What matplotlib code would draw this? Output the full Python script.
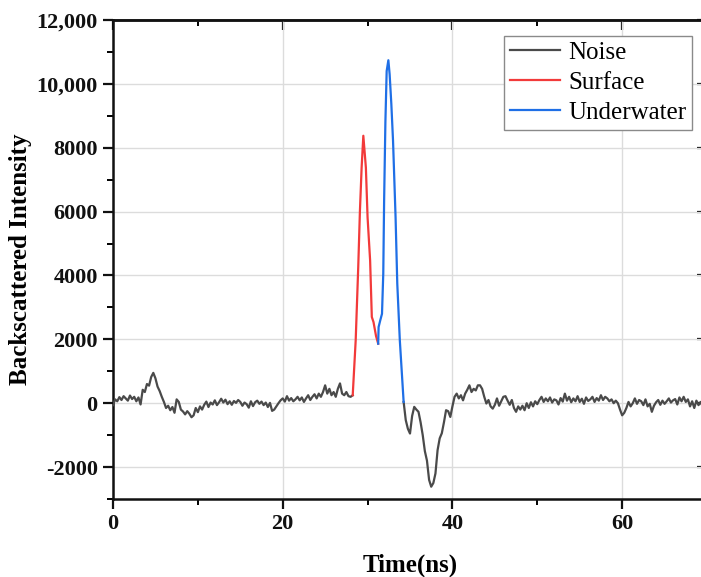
import numpy as np
import matplotlib
matplotlib.use("Agg")
import matplotlib.pyplot as plt
from matplotlib.ticker import FuncFormatter, MultipleLocator

plt.rcParams['font.family'] = ['Liberation Serif', 'DejaVu Serif']
plt.rcParams['axes.unicode_minus'] = False

# ---- data ----
noise1_t0 = 0.0
noise_step = 0.25
noise1_vals = [
    -60, 120, 60, 190,
    100, 220, 150, 80,
    240, 130, 200, 60,
    180, -40, 420, 350,
    600, 550, 820, 950,
    780, 520, 380, 200,
    40, -150, -80, -220,
    -120, -300, 120, 40,
    -200, -260, -350, -250,
    -330, -440, -380, -150,
    -280, -100, -200, -50,
    50, -120, 20, -40,
    90, -60, 30, 140,
    20, 110, -30, 60,
    -50, 70, 10, 100,
    40, -80, 20, -30,
    -140, 60, -90, 30,
    80, -20, 50, -60,
    20, -120, 10, -240,
    -200, -100, 0, 90,
    150, 50, 220, 80,
    160, 60, 120, 200,
    90, 180, 40, 150,
    250, 100, 200, 280,
    150, 300, 200, 350,
    560, 300, 450, 250,
    350, 200, 450, 620,
    300, 250, 350, 220,
    200, 250,
]

surface_t = [28.25, 28.6, 28.9, 29.1, 29.3, 29.5, 29.8, 30.0, 30.3, 30.5, 30.7, 31.0, 31.25]
surface_v = [250, 1970, 4260, 6030, 7380, 8375, 7380, 5820, 4470, 2700, 2540, 2100, 1865]

under_t = [31.25, 31.3, 31.5, 31.7, 31.85, 31.95, 32.1, 32.25, 32.45, 32.6, 32.8, 33.0, 33.3, 33.5, 33.8, 34.25]
under_v = [1865, 2385, 2600, 2800, 4060, 6340, 8800, 10400, 10740, 10300, 9370, 8220, 5820, 3750, 1970, 40]

noise2_t0 = 34.25
noise2_vals = [
    40, -530, -800, -950,
    -400, -115, -200, -270,
    -600, -1000, -1500, -1800,
    -2400, -2615, -2500, -2200,
    -1470, -1100, -940, -600,
    -220, -250, -430, -100,
    200, 300, 150, 250,
    90, 300, 420, 560,
    350, 450, 400, 560,
    560, 450, 200, -10,
    100, -100, -170, -50,
    150, -80, 60, 200,
    220, 80, -50, 100,
    -150, -270, -100, -200,
    -80, -220, 0, -150,
    30, -100, 60, -30,
    100, 200, 40, 150,
    60, 180, 20, 120,
    90, -40, 160, 50,
    300, 80, 200, 30,
    150, 60, 220, 40,
    140, -20, 180, 70,
    120, 200, 40, 160,
    80, 250, 100, 200,
    150, 60, 120, 0,
    80, 0, -200, -380,
    -300, -150, 40, -100,
    0, 150, -20, 100,
    60, -60, 120, -100,
    -20, -270, -80, 30,
    100, -50, 80, -20,
    60, 150, 20, 90,
    130, -40, 180, 60,
    200, 40, 120, -100,
    60, -150, 80, -60,
    40, -115, 20, -80,
]

x_ticks = [0, 20, 40, 60]
y_ticks = [-2000, 0, 2000, 4000, 6000, 8000, 10000, 12000]

noise1_t = noise1_t0 + noise_step * np.arange(len(noise1_vals))
noise2_t = noise2_t0 + noise_step * np.arange(len(noise2_vals))
noise_t = np.concatenate([noise1_t, [np.nan], noise2_t])
noise_v = np.concatenate([noise1_vals, [np.nan], noise2_vals])

W, H = 701, 577
fig = plt.figure(figsize=(W / 100, H / 100), dpi=100)
ax = fig.add_axes([113 / W, (H - 499) / H, 594 / W, 479 / H])

ax.plot(noise_t, noise_v, color='#4a4a4a', lw=1.6, label='Noise', zorder=3)
ax.plot(surface_t, surface_v, color='#f23a3a', lw=1.6, label='Surface', zorder=4)
ax.plot(under_t, under_v, color='#1f6fe6', lw=1.6, label='Underwater', zorder=4)

ax.set_xlim(0, 70)
ax.set_ylim(-3000, 12000)
ax.set_xticks(x_ticks)
ax.set_yticks(y_ticks)
ax.xaxis.set_minor_locator(MultipleLocator(10))
ax.yaxis.set_minor_locator(MultipleLocator(1000))
ax.yaxis.set_major_formatter(FuncFormatter(
    lambda v, p: f"{v:,.0f}" if abs(v) >= 10000 else f"{v:.0f}"))

ax.grid(True, which='major', color='#dcdcdc', lw=1.0, zorder=0)
ax.set_axisbelow(True)

for s in ax.spines.values():
    s.set_linewidth(1.8)
    s.set_color('#111111')

ax.tick_params(axis='both', which='major', direction='out', length=7, width=1.6,
               labelsize=16, pad=4, colors='#111111')
ax.tick_params(axis='both', which='minor', direction='out', length=4, width=1.4)
for lab in ax.get_xticklabels() + ax.get_yticklabels():
    lab.set_fontweight('bold')

# inward ticks on top and right (mirror)
axt = ax.secondary_xaxis('top')
axt.set_xticks(x_ticks)
axt.xaxis.set_minor_locator(MultipleLocator(10))
axt.tick_params(which='major', direction='in', length=7, width=1.6, labeltop=False)
axt.tick_params(which='minor', direction='in', length=4, width=1.4)
axt.spines['top'].set_linewidth(1.8)
axr = ax.secondary_yaxis('right')
axr.set_yticks(y_ticks)
axr.yaxis.set_minor_locator(MultipleLocator(1000))
axr.tick_params(which='major', direction='in', length=7, width=1.6, labelright=False)
axr.tick_params(which='minor', direction='in', length=4, width=1.4)

ax.set_xlabel('Time(ns)', fontsize=18, fontweight='bold', labelpad=14)
ax.set_ylabel('Backscattered Intensity', fontsize=18, fontweight='bold', labelpad=3)

leg = ax.legend(loc='upper right', bbox_to_anchor=(692 / W, 1 - 36 / H),
                bbox_transform=fig.transFigure, fontsize=18, frameon=True,
                fancybox=False, framealpha=1, edgecolor='#8a8a8a',
                handlelength=2.0, handletextpad=0.35, labelspacing=0.3,
                borderpad=0.22, borderaxespad=0)
leg.get_frame().set_linewidth(1.0)

fig.savefig('out.png', dpi=100)
